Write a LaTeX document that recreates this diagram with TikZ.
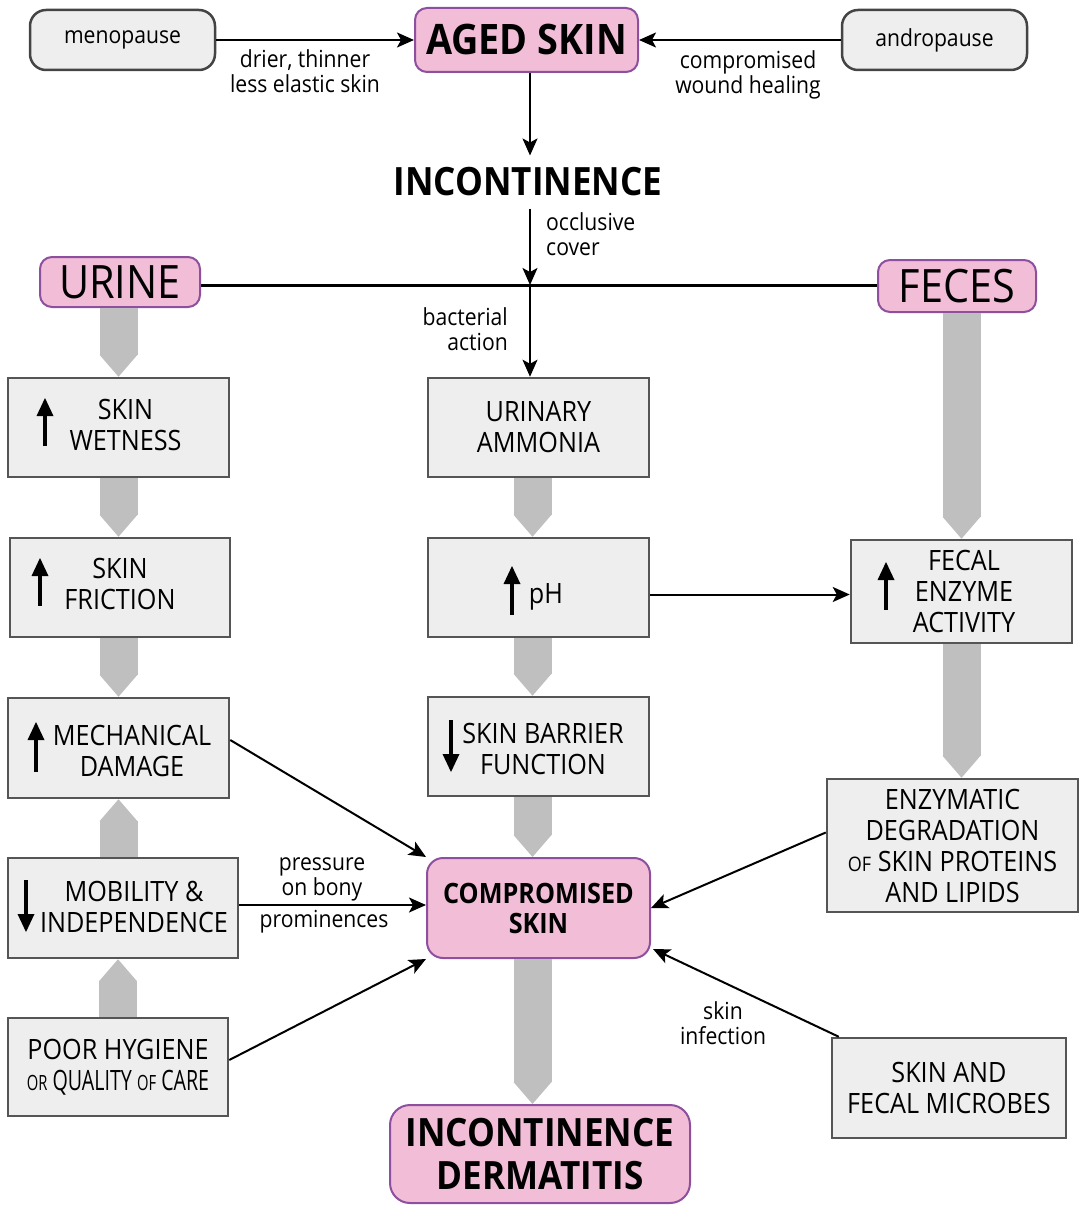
\documentclass[tikz,border=0pt]{standalone}
\usepackage{fontspec}
\usepackage{graphicx}
\setmainfont{Open Sans}[FakeStretch=0.9]
\usetikzlibrary{arrows.meta,calc}
\definecolor{boxfill}{HTML}{EEEEEE}
\definecolor{boxline}{HTML}{555555}
\definecolor{pinkfill}{HTML}{F1BDD7}
\definecolor{pinkline}{HTML}{8E4F9F}
\definecolor{grayarr}{HTML}{BFBFBF}
\newcommand\fs[2]{\fontsize{#1}{#2}\selectfont}
\begin{document}
\begin{tikzpicture}[x=1pt,y=-1pt,
  graybox/.style={draw=boxline, line width=2.5pt, fill=boxfill, inner sep=0pt, align=center, font=\fs{28}{31}},
  roundbox/.style={draw=boxline!80!black, line width=2.5pt, fill=boxfill, rounded corners=16pt, inner sep=0pt, font=\fs{23.5}{25}},
  pinkbox/.style={draw=pinkline, line width=2pt, fill=pinkfill, rounded corners=12pt, inner sep=0pt, align=center},
  txt/.style={inner sep=0pt, align=center, font=\fs{28}{31}},
  lbl/.style={inner sep=0pt, align=center, font=\fs{23.5}{25}},
  blk/.style={line width=2pt, -{Stealth[length=17pt,width=15pt,inset=4pt]}},
  fat/.style={draw=grayarr, line width=38pt, -{Triangle[length=22pt,width=38pt,line width=0pt]}},
  updn/.style={line width=4.5pt, -{Triangle[length=18pt,width=17pt,line width=0pt]}}
]
\useasboundingbox (0,0) rectangle (1079,1206);

% top row
\node[roundbox, minimum width=185pt, minimum height=60pt] (meno) at (122.5,40) {menopause};
\node[roundbox, minimum width=185pt, minimum height=60pt] (andro) at (934.5,40) {andropause};
\node[pinkbox, minimum width=223pt, minimum height=64pt, font=\fs{42}{44}\bfseries] (aged) at (526.5,40) {AGED SKIN};
\node[inner xsep=0pt, inner ysep=12pt, font=\fs{39}{43}\bfseries] (incont) at (528,182) {INCONTINENCE};

\node[pinkbox, minimum width=160pt, minimum height=50pt, font=\fs{46}{48}] (urine) at (120,282) {URINE};
\node[pinkbox, minimum width=158pt, minimum height=52pt, font=\fs{46}{48}] (feces) at (957,286) {FECES};

% left column
\node[graybox, minimum width=221pt, minimum height=99pt] (wet) at (118.5,427.5) {};
\node[txt] (wett) at (125.5,425) {SKIN\\WETNESS};
\node[graybox, minimum width=220pt, minimum height=99pt] (fric) at (120,587.5) {};
\node[txt] (frict) at (120,584) {SKIN\\FRICTION};
\node[graybox, minimum width=221pt, minimum height=100pt] (mech) at (118.5,748) {};
\node[txt] (mecht) at (132,751) {MECHANICAL\\DAMAGE};
\node[graybox, minimum width=230pt, minimum height=100pt] (mob) at (123,908) {};
\node[txt] (mobt) at (134,907) {MOBILITY \&\\INDEPENDENCE};
\node[graybox, minimum width=220pt, minimum height=98pt] (hyg) at (118,1067)
  {POOR HYGIENE\\\scalebox{0.78}[1]{{\fs{21}{31}OR} QUALITY {\fs{21}{31}OF} CARE}};

% centre column
\node[graybox, minimum width=221pt, minimum height=99pt] (amm) at (538.5,427.5) {URINARY\\AMMONIA};
\node[graybox, minimum width=221pt, minimum height=99pt] (ph) at (538.5,587.5) {};
\node[txt] (pht) at (546,597) {pH};
\node[graybox, minimum width=221pt, minimum height=99pt] (barr) at (538.5,746.5) {};
\node[txt] (barrt) at (543,749) {SKIN BARRIER\\FUNCTION};
\node[pinkbox, minimum width=223pt, minimum height=100pt, rounded corners=16pt, font=\fs{28}{30}\bfseries] (comp) at (538.5,908) {COMPROMISED\\SKIN};
\node[pinkbox, minimum width=300pt, minimum height=98pt, rounded corners=20pt, font=\fs{39}{43}\bfseries] (derm) at (540,1154) {INCONTINENCE\\DERMATITIS};

% right column
\node[graybox, minimum width=221pt, minimum height=103pt] (fec) at (961.5,591.5) {};
\node[txt] (fect) at (964,591) {FECAL\\ENZYME\\ACTIVITY};
\node[graybox, minimum width=251pt, minimum height=133pt] (enz) at (952.5,845.5)
  {ENZYMATIC\\DEGRADATION\\{\fs{20}{31}OF} SKIN PROTEINS\\AND LIPIDS};
\node[graybox, minimum width=234pt, minimum height=100pt] (mic) at (949,1088) {SKIN AND\\FECAL MICROBES};

% inner up/down arrows
\draw[updn] (45,446) -- (45,398);
\draw[updn] (40,606) -- (40,558);
\draw[updn] (36,772) -- (36,722);
\draw[updn] (26,880) -- (26,932);
\draw[updn] (512,615) -- (512,566);
\draw[updn] (451,720) -- (451,772);
\draw[updn] (886,610) -- (886,562);

% gray flow arrows
\draw[fat] (urine.south -| wet.north) -- (wet.north);
\draw[fat] (wet.south) -- (wet.south |- fric.north);
\draw[fat] (fric.south -| mech.north) -- (mech.north);
\draw[fat] (mob.north -| mech.south) -- (mech.south);
\draw[fat] (hyg.north) -- (hyg.north |- mob.south);
\draw[fat] ($(amm.south)+(-6,0)$) -- ($(ph.north)+(-6,0)$);
\draw[fat] ($(ph.south)+(-6,0)$) -- ($(barr.north)+(-6,0)$);
\draw[fat] ($(barr.south)+(-6,0)$) -- ($(comp.north)+(-6,0)$);
\draw[fat] ($(comp.south)+(-6,0)$) -- ($(comp.south |- derm.north)+(-6,0)$);
\draw[fat] (feces.south -| fec.north) -- (fec.north);
\draw[fat] (fec.south) -- (fec.south |- enz.north);

% black connectors
\coordinate (jn) at (530,285);
\draw[blk] (meno) -- (aged);
\draw[blk] (andro) -- (aged);
\draw[blk] (aged.south -| jn) -- (incont.north -| jn);
\draw[blk] (incont.south -| jn) -- (jn);
\draw[line width=3pt] (urine.east |- jn) -- (feces.west |- jn);
\draw[blk] (jn) -- (jn |- amm.north);
\draw[blk] ($(ph.east |- fec.west)+(0,3)$) -- ($(fec.west)+(0,3)$);
\draw[blk] ($(mech.east)+(0,-8)$) -- (comp.north west);
\draw[blk] ($(mob.east)+(0,-3)$) -- ($(mob.east -| comp.west)+(0,-3)$);
\draw[blk] ($(hyg.east)+(0,-7)$) -- (comp.south west);
\draw[blk] ($(enz.west)+(0,-13)$) -- (comp.east);
\draw[blk] ($(mic.north west)+(8,0)$) -- ($(comp.south east)+(2,-10)$);

% labels
\node[lbl] (l1) at (305,71) {drier, thinner\\less elastic skin};
\node[lbl] (l2) at (748,75) {compromised\\wound healing};
\node[lbl, anchor=west, align=left] (l3) at (546,234) {occlusive\\cover};
\node[lbl, anchor=east, align=right] (l4) at (508,329) {bacterial\\action};
\node[lbl] (l5) at (322,879) {pressure\\on bony};
\node[lbl] (l6) at (324,922) {prominences};
\node[lbl] (l7) at (723,1023) {skin\\infection};
\end{tikzpicture}
\end{document}
